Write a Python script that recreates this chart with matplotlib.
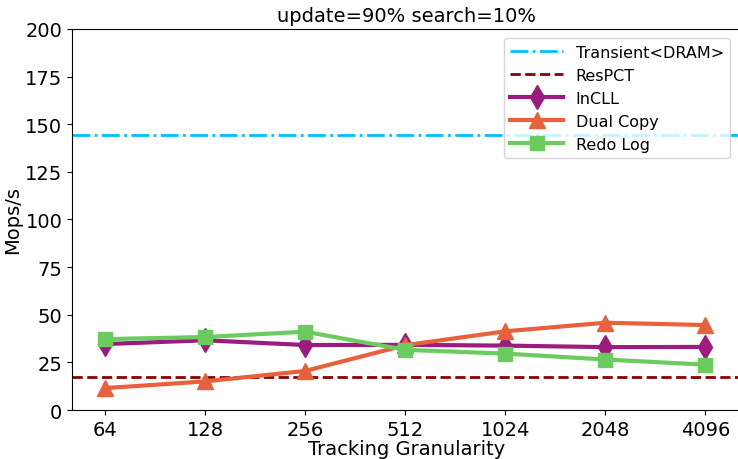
import matplotlib
matplotlib.use("Agg")
import matplotlib.pyplot as plt
import numpy as np

# Throughput per tracking granularity (Mops/s)
granularity = ["64", "128", "256", "512", "1024", "2048", "4096"]
transient_dram = 144.5
respct = 17.5
incll = [34.6, 36.6, 34.1, 34.2, 33.8, 33.0, 33.1]
dual_copy = [11.5, 15.0, 20.5, 34.0, 41.3, 45.8, 44.6]
redo_log = [37.2, 38.3, 41.1, 31.6, 29.6, 26.5, 23.8]

x = np.arange(len(granularity))

fig = plt.figure(figsize=(7.38, 4.6), dpi=100)
ax = fig.add_axes([0.0976, 0.1065, 0.907, 0.8285])

ax.axhline(transient_dram, color="#00BFFF", linestyle="-.", linewidth=2, label="Transient<DRAM>")
ax.axhline(respct, color="#8B0000", linestyle="--", linewidth=2, label="ResPCT")
ax.plot(x, incll, color="#9B1B7E", marker="d", markersize=12, linewidth=3, label="InCLL")
ax.plot(x, dual_copy, color="#E8603C", marker="^", markersize=11, linewidth=3, label="Dual Copy")
ax.plot(x, redo_log, color="#6CCB5F", marker="s", markersize=10, linewidth=3, label="Redo Log")

ax.set_xticks(x)
ax.set_xticklabels(granularity)
ax.set_xlim(-0.33, 6.36)
ax.set_ylim(0, 200)
ax.set_yticks(range(0, 201, 25))
ax.tick_params(labelsize=14)
ax.set_xlabel("Tracking Granularity", fontsize=14, labelpad=0)
ax.set_ylabel("Mops/s", fontsize=14, labelpad=2)
ax.set_title("update=90% search=10%", fontsize=14)
ax.legend(loc="upper right", fontsize=11.5, handlelength=3.3, borderaxespad=0.6,
          labelspacing=0.5, bbox_to_anchor=(0.998, 1.0))

fig.savefig("out.png", dpi=100)
